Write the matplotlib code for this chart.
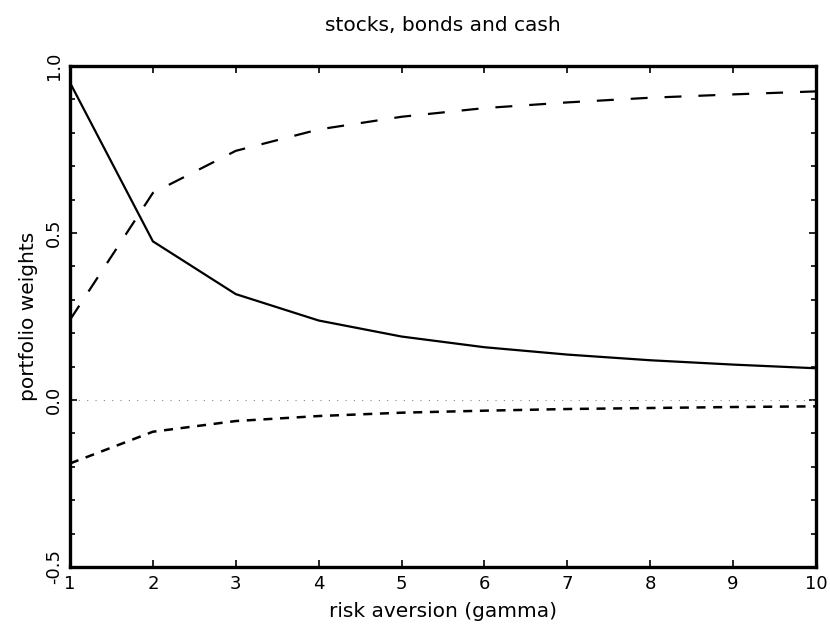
import matplotlib
matplotlib.use("Agg")
import matplotlib.pyplot as plt
from matplotlib.ticker import MultipleLocator

plt.rcParams['lines.scale_dashes'] = False
plt.rcParams['font.family'] = ['DejaVu Sans']

gamma = [1, 2, 3, 4, 5, 6, 7, 8, 9, 10]
stocks = [0.95, 0.475, 0.317, 0.238, 0.19, 0.158, 0.136, 0.119, 0.106, 0.095]
bonds = [0.24, 0.62, 0.746, 0.81, 0.848, 0.874, 0.891, 0.905, 0.915, 0.924]
cash = [-0.19, -0.095, -0.063, -0.048, -0.038, -0.032, -0.027, -0.024, -0.021, -0.019]
xticks = [1, 2, 3, 4, 5, 6, 7, 8, 9, 10]
yticks = [-0.5, 0.0, 0.5, 1.0]
ytick_labels = ["-0.5", "0.0", "0.5", "1.0"]

fig = plt.figure(figsize=(8.3, 6.33), dpi=100)
ax = fig.add_axes([70/830, 1-567/633, (816-70)/830, (567-66)/633])

ax.axhline(0.0, color='#888888', lw=0.8, linestyle=(0, (0.8, 5.2)))
ax.plot(gamma, stocks, color='black', lw=1.6, solid_joinstyle='miter')
ax.plot(gamma, bonds, color='black', lw=1.6, linestyle=(0, (12.2, 12.2)))
ax.plot(gamma, cash, color='black', lw=1.8, linestyle=(0, (6.5, 5.5)))

ax.set_xlim(1, 10)
ax.set_ylim(-0.5, 1.0)
ax.set_xticks(xticks)
ax.set_xticklabels([str(t) for t in xticks])
ax.set_yticks(yticks)
ax.set_yticklabels(ytick_labels, rotation=90, va='center')
ax.yaxis.set_minor_locator(MultipleLocator(0.1))

for s in ax.spines.values():
    s.set_linewidth(2.4)

ax.tick_params(axis='both', which='both', direction='in', top=True, right=True,
               width=1.2, labelsize=13)
ax.tick_params(axis='both', which='major', length=5)
ax.tick_params(axis='y', which='minor', length=3.5)
ax.tick_params(axis='x', which='major', pad=6)
ax.tick_params(axis='y', which='major', pad=5)

ax.set_title("stocks, bonds and cash", fontsize=14.5, pad=25)
ax.set_xlabel("risk aversion (gamma)", fontsize=14.5, labelpad=6)
ax.set_ylabel("portfolio weights", fontsize=14.5, labelpad=5)

fig.savefig("out.png", dpi=100)
